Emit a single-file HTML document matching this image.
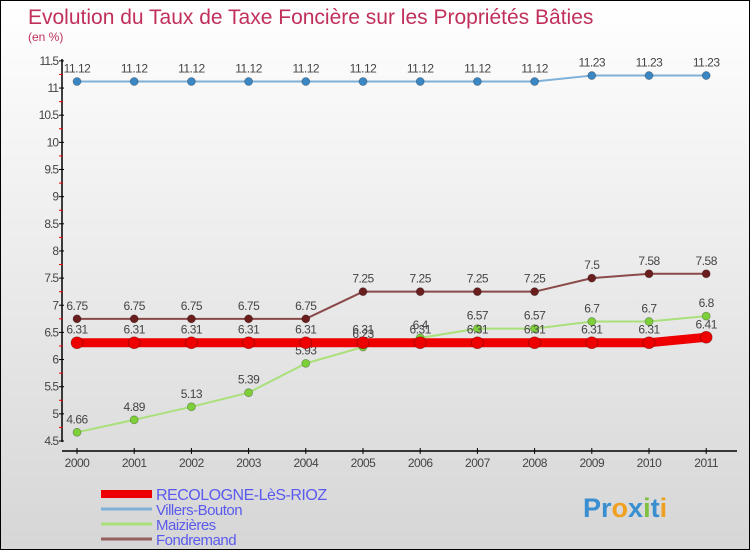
<!DOCTYPE html>
<html><head><meta charset="utf-8"><style>
body{margin:0}
#c{width:750px;height:550px;position:relative;overflow:hidden;background:linear-gradient(#ffffff,#d6d6d6);box-sizing:border-box;border:1px solid #000;font-family:"Liberation Sans",sans-serif}
svg{position:absolute;left:0;top:0}
</style></head><body>
<div id="c">
<svg id="s" width="750" height="550">
<text x="27" y="23" font-size="21" fill="#c0305a">Evolution du Taux de Taxe Foncière sur les Propriétés Bâties</text>
<text x="27" y="40" font-size="12" fill="#c0305a">(en %)</text>
<text x="582" y="516" font-size="27" font-weight="bold"><tspan fill="#3a8fd0">Pr</tspan><tspan fill="#f0a020">o</tspan><tspan fill="#3a8fd0">x</tspan><tspan fill="#80c040">i</tspan><tspan fill="#3a8fd0">t</tspan><tspan fill="#f0a020">i</tspan></text>
</svg>
</div>
<script>
const years=[2000,2001,2002,2003,2004,2005,2006,2007,2008,2009,2010,2011];
const recologne=[6.31,6.31,6.31,6.31,6.31,6.31,6.31,6.31,6.31,6.31,6.31,6.41];
const villers=[11.12,11.12,11.12,11.12,11.12,11.12,11.12,11.12,11.12,11.23,11.23,11.23];
const maizieres=[4.66,4.89,5.13,5.39,5.93,6.23,6.4,6.57,6.57,6.7,6.7,6.8];
const fondremand=[6.75,6.75,6.75,6.75,6.75,7.25,7.25,7.25,7.25,7.5,7.58,7.58];
const yTicks=[4.5,5,5.5,6,6.5,7,7.5,8,8.5,9,9.5,10,10.5,11,11.5];
const yTickLabels=["4.5","5","5.5","6","6.5","7","7.5","8","8.5","9","9.5","10","10.5","11","11.5"];
const names=["RECOLOGNE-LèS-RIOZ","Villers-Bouton","Maizières","Fondremand"];
const NS="http://www.w3.org/2000/svg";
const s=document.getElementById('s');
function X(i){return 76+i*57.2;}
function Y(v){return 440-(v-4.5)*54.3;}
function el(t,a,p){const e=document.createElementNS(NS,t);for(const k in a)e.setAttribute(k,a[k]);(p||s).appendChild(e);return e;}
let ax=el('line',{x1:61,y1:58,x2:61,y2:441,stroke:'#000','stroke-width':1.5});


let xx=el('line',{x1:61,y1:450,x2:736,y2:450,stroke:'#000','stroke-width':1.5});


yTicks.forEach((v,i)=>{
 el('line',{x1:58,y1:Y(v),x2:63,y2:Y(v),stroke:'#000'});
 if(i<yTicks.length-1)el('line',{x1:58,y1:Y(v+0.25),x2:62,y2:Y(v+0.25),stroke:'#e00'});
 const t=el('text',{x:57,y:Y(v)+4,'font-size':12,fill:'#444','text-anchor':'end','letter-spacing':'-1'});
 t.textContent=yTickLabels[i];
 
 
});
years.forEach((y,i)=>{
 el('line',{x1:X(i),y1:447,x2:X(i),y2:453,stroke:'#000'});
 const t=el('text',{x:X(i),y:466,'font-size':12,fill:'#444','text-anchor':'middle','letter-spacing':'-0.5'});
 t.textContent=y;
 
 
});
function series(data,color,dot,w,r,name){
 const g=el('g',{});
 
 
 el('polyline',{points:data.map((v,i)=>X(i)+','+Y(v)).join(' '),fill:'none',stroke:color,'stroke-width':w,'stroke-linejoin':'round'},g);
 data.forEach((v,i)=>{
  const c=el('circle',{cx:X(i),cy:Y(v),r:r,fill:dot,stroke:'rgba(0,0,0,0.3)','stroke-width':0.8},g);
  
  
  const t=el('text',{x:X(i),y:Y(v)-9,'font-size':12,fill:'#444','text-anchor':'middle','letter-spacing':'-0.5'},g);
  t.textContent=String(v);
  
  
 });
}
series(villers,'#7fb0d8','#3a87c4',2,4,'villers-bouton');
series(maizieres,'#a9e07a','#7ed03a',2,4,'maizieres');
series(fondremand,'#8a4a4a','#6b1e1e',2,4,'fondremand');
series(recologne,'#ee0000','#ee0000',9,6,'recologne');
const lc=[['#ee0000',8],['#7fb0d8',3],['#a9e07a',3],['#956060',3]];
names.forEach((n,i)=>{
 const y=493+i*15;
 const l=el('line',{x1:100,y1:y,x2:151,y2:y,stroke:lc[i][0],'stroke-width':lc[i][1]});
 
 
 const t=el('text',{x:155,y:y+6,'font-size':i==0?16:15,fill:'#5a5aee','letter-spacing':'-0.5'});
 t.textContent=n;
 
 
});
</script>
</body></html>
